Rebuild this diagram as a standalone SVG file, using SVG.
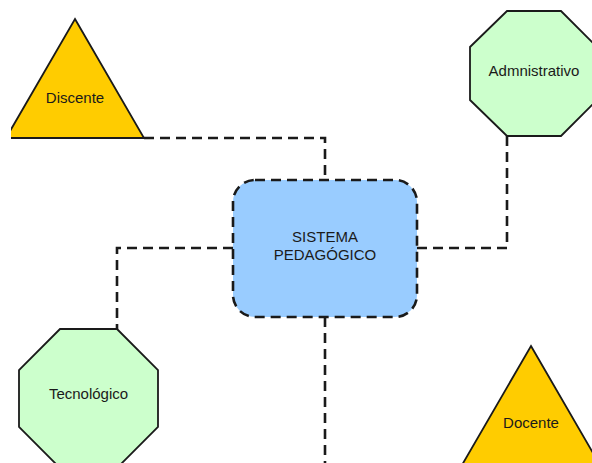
<svg xmlns="http://www.w3.org/2000/svg" width="592" height="463" viewBox="0 0 592 463">
  <style>
    .tri { fill: #FFCC00; stroke: #1a1a1a; stroke-width: 1.8; stroke-linejoin: miter; }
    .oct { fill: #CCFFCC; stroke: #1a1a1a; stroke-width: 1.8; }
    .box { fill: #99CCFF; stroke: #1a1a1a; stroke-width: 2.6; stroke-dasharray: 10 6; }
    .conn { fill: none; stroke: #1a1a1a; stroke-width: 2.6; stroke-dasharray: 10 6; }
    .lbl { font-family: "Liberation Sans", Arial, sans-serif; font-size: 15px; fill: #1a1a1a; text-anchor: middle; }
  </style>
  <defs>
    <clipPath id="leftcut">
      <rect x="11" y="0" width="581" height="463"/>
    </clipPath>
  </defs>
  <rect x="0" y="0" width="592" height="463" fill="#ffffff"/>
  <g id="connectors">
    <path class="conn" d="M144,138 H325 V180"/>
    <path class="conn" d="M507,136 V248 H417"/>
    <path class="conn" d="M233,248 H117 V329"/>
    <path class="conn" d="M325,317 V465"/>
  </g>
  <g id="discente" clip-path="url(#leftcut)">
    <polygon class="tri" points="75,19 144,138 6,138"/>
    <text class="lbl" x="75" y="103">Discente</text>
  </g>
  <g id="administrativo">
    <polygon class="oct" points="507,11 561,11 597,47 597,100 561,136 507,136 470,100 470,47"/>
    <text class="lbl" x="534" y="76">Admnistrativo</text>
  </g>
  <g id="sistema">
    <rect class="box" x="233" y="180" width="184" height="137" rx="22" ry="22"/>
    <text class="lbl" x="325" y="242">SISTEMA</text>
    <text class="lbl" x="325" y="260">PEDAGÓGICO</text>
  </g>
  <g id="tecnologico">
    <polygon class="oct" points="60,329 117,329 158,370 158,427 117,468 60,468 19,427 19,370"/>
    <text class="lbl" x="88.5" y="399">Tecnológico</text>
  </g>
  <g id="docente">
    <polygon class="tri" points="531,346 600,465 462,465"/>
    <text class="lbl" x="531" y="428">Docente</text>
  </g>
</svg>
